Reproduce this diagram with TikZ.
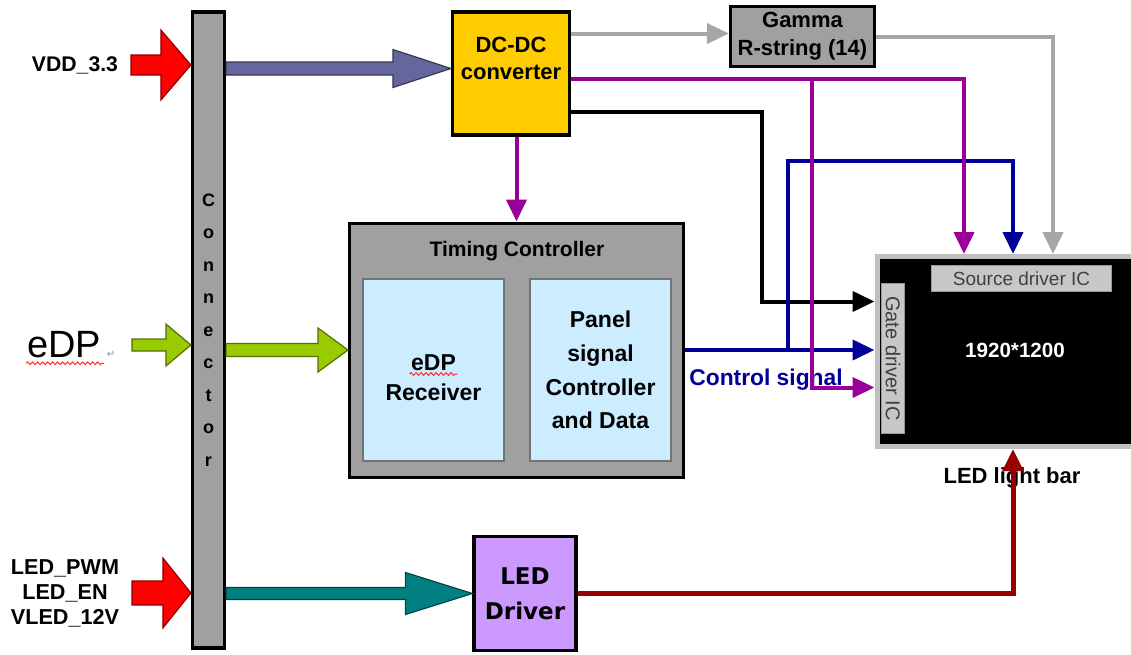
\documentclass[tikz,border=0pt]{standalone}
\usepackage{fontspec}
\setmainfont{Liberation Sans}
\newfontfamily\dejavu{DejaVu Sans}
\usetikzlibrary{calc,arrows.meta,decorations.pathmorphing}
\tikzset{
every picture/.style={
line width=1pt
}}
\definecolor{dcyellow}{HTML}{FFCC00}
\definecolor{boxgray}{HTML}{A0A0A0}
\definecolor{rxblue}{HTML}{CCECFF}
\definecolor{ledlilac}{HTML}{CC99FF}
\definecolor{sigpurple}{HTML}{990099}
\definecolor{signavy}{HTML}{000099}
\definecolor{sigred}{HTML}{990000}
\definecolor{siggray}{HTML}{A6A6A6}
\definecolor{vddslate}{HTML}{66669E}
\definecolor{edpgreen}{HTML}{99CC00}
\definecolor{ledteal}{HTML}{008080}

% fill, from, to, shaft half, head half, head length
\newcommand{\fatarrow}[6]{%
  \path (#2) coordinate (fas) (#3) coordinate (fae);
  \draw [fat, draw=#1!55!black, fill=#1] ($(fas)+(0,-#4)$) -- ($(fae)+(-#6,-#4)$)
    -- ($(fae)+(-#6,-#5)$) -- (fae) -- ($(fae)+(-#6,#5)$) -- ($(fae)+(-#6,#4)$)
    -- ($(fas)+(0,#4)$) -- cycle;}

\begin{document}
\begin{tikzpicture}[x=0.5pt, y=-0.5pt,
box/.style = {rectangle, draw=black, line width=1.6pt, inner sep=0pt},
inbox/.style = {rectangle, draw=black!55, line width=0.9pt, fill=rxblue, minimum width=70.5pt,
  minimum height=91pt, align=center, font=\bfseries\fontsize{11.5}{15}\selectfont},
lbl/.style = {font=\bfseries\fontsize{10.6}{12.5}\selectfont, align=center, inner sep=1pt},
chip/.style = {rectangle, fill=black!22, draw=black!40, line width=0.5pt, inner sep=0pt,
  text=black!75, font=\fontsize{9.5}{11}\selectfont},
sig/.style = {line width=2pt, -{Triangle[length=11pt, width=10pt]}},
fat/.style = {line width=0.6pt},
wavy/.style = {draw=red!80, line width=0.5pt, decorate,
  decoration={snake, amplitude=0.7pt, segment length=2.5pt}}]
\useasboundingbox (0,0) rectangle (1131,654);

\node [box, fill=boxgray, minimum width=16pt, minimum height=318pt, align=center,
  font=\bfseries\fontsize{9}{16.25}\selectfont] at (208.5,330) (conn) {C\\o\\n\\n\\e\\c\\t\\o\\r};
\node [box, fill=dcyellow, minimum width=58.5pt, minimum height=61.5pt] at (511,73.5) (dcdc) {};
\node [lbl, font=\bfseries\fontsize{11}{13.5}\selectfont] at (511,58.5) (dcdctxt) {DC-DC\\converter};
\node [box, fill=boxgray, minimum width=72pt, minimum height=30pt, align=center,
  font=\bfseries\fontsize{11}{14}\selectfont] at (802.5,36.5) (gamma) {Gamma\\R-string (14)};
\node [box, fill=boxgray, line width=1.5pt, minimum width=167pt, minimum height=127pt] at (516.5,350) (tc) {};
\node [lbl, font=\bfseries\fontsize{10.5}{12}\selectfont] at (517,251) (tctitle) {Timing Controller};
\node [inbox, text height=31pt] at (433.5,370) (rx) {eDP\\Receiver};
\node [inbox, font=\bfseries\fontsize{11.5}{16.8}\selectfont] at (600.5,370) (psc) {Panel\\signal\\Controller\\and Data};
\node [box, fill=ledlilac, minimum width=51pt, minimum height=57pt, align=center,
  font=\dejavu\bfseries\fontsize{11.5}{17.5}\selectfont] at (525,593.5) (drv) {LED\\Driver};

\node [rectangle, draw=black!25, line width=2.5pt, fill=black, minimum width=136pt,
  minimum height=95pt] at (1013,351.5) (panel) {};
\node [chip, minimum width=90pt, minimum height=13pt] at (1021.5,278.5) (src) {Source driver IC};
\node [chip, rotate=-90, minimum width=75pt, minimum height=11.5pt,
  font=\fontsize{10}{11}\selectfont] at (893,358.5) (gate) {Gate driver IC};
\node [lbl, text=white, font=\bfseries\fontsize{10.3}{12}\selectfont] at (1015,350) (res) {1920*1200};
\node [lbl, font=\bfseries\fontsize{11}{13}\selectfont] at (1012,478) (bar) {LED light bar};

\node [lbl] at (75,65) (vdd) {VDD\_3.3};
\node [font=\fontsize{19}{22}\selectfont, inner sep=1pt] at (64,345) (edp) {eDP};
\node [font=\dejavu\fontsize{5}{6}\selectfont, text=black!45, anchor=base west, inner sep=1pt]
  at (edp.base east) (edpret) {↵};
\node [lbl, font=\bfseries\fontsize{10.8}{12.5}\selectfont] at (65,593) (led) {LED\_PWM\\LED\_EN\\VLED\_12V};
\node [lbl, text=signavy, font=\bfseries\fontsize{11.4}{13}\selectfont] at (766,380) (ctl) {Control signal};

\draw [wavy] ($(edp.south west)+(2,2)$) -- ($(edp.south east)+(0,2)$);
\draw [wavy] ($(rx.center)+(-24,4)$) -- ($(rx.center)+(24,4)$);

\fatarrow{red}{$(vdd.east)+(10,0)$}{vdd -| conn.west}{10}{35}{30}
\fatarrow{vddslate}{$(dcdc.west -| conn.east)+(0,-5)$}{$(dcdc.west)+(0,-5)$}{6.5}{19}{58}
\fatarrow{edpgreen}{$(edp.east)+(28,0)$}{edp -| conn.west}{6}{21}{25}
\fatarrow{edpgreen}{tc.west -| conn.east}{tc.west}{6.5}{22}{30}
\fatarrow{red}{$(led.east)+(10,0)$}{led -| conn.west}{12}{35}{28}
\fatarrow{ledteal}{drv.west -| conn.east}{drv.west}{6}{21}{67}

\draw [sig, siggray] ($(dcdc.east)+(0,-40)$) coordinate (g0) -- (g0 -| gamma.west);
\draw [sig, siggray] (gamma.east) -| ($(panel.north)+(40,0)$);
\draw [sig, black] ($(dcdc.east)+(0,38)$) -- ++(191,0) |- ($(panel.west)+(0,-50)$);
\draw [sig, signavy] (tc.east) -- (tc.east -| panel.west);
\draw [sig, signavy] ($(tc.east)+(103,0)$) |- ($(panel.north)+(0,-93)$) -- (panel.north);
\draw [sig, sigpurple] ($(dcdc.east)+(0,5)$) -- ++(241,0) coordinate (pj) -| ($(panel.north)+(-49,0)$);
\draw [sig, sigpurple] (pj) |- ($(panel.west)+(0,36)$);
\draw [sig, sigpurple] (dcdc.south -| tc.north) -- (tc.north);
\draw [sig, sigred, line width=2.5pt] (drv.east) -| (panel.south);

\end{tikzpicture}
\end{document}
